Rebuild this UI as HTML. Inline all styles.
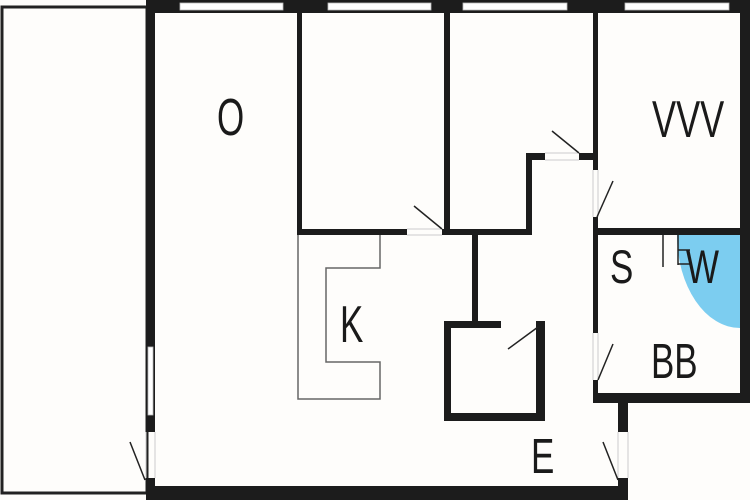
<!DOCTYPE html>
<html><head><meta charset="utf-8"><style>
html,body{margin:0;padding:0;background:#fff;width:750px;height:500px;overflow:hidden}
svg{display:block}
text{font-family:"Liberation Sans",sans-serif;fill:#1a1a1a}
</style></head><body>
<svg width="750" height="500" viewBox="0 0 750 500" xmlns="http://www.w3.org/2000/svg">
<rect width="750" height="500" fill="#fefdfb"/>
<!-- left outer rect -->
<rect x="2" y="7" width="145" height="486" fill="none" stroke="#222" stroke-width="3"/>
<!-- blue quarter -->
<path d="M740 235 L677 235 A63 93 0 0 0 740 328 Z" fill="#7ccdf0"/>
<g fill="#1c1c1c">
<!-- top wall -->
<rect x="146" y="0" width="604" height="13"/>
<!-- left wall -->
<rect x="146" y="0" width="9" height="432"/>
<rect x="146" y="478" width="9" height="22"/>
<!-- right wall -->
<rect x="740" y="0" width="10" height="403"/>
<!-- bottom wall -->
<rect x="146" y="486" width="482" height="14"/>
<!-- O / room2 -->
<rect x="297" y="0" width="5" height="235"/>
<rect x="297" y="229" width="110" height="6"/>
<rect x="442" y="229" width="90" height="6"/>
<rect x="444" y="0" width="6" height="235"/>
<rect x="526" y="153" width="6" height="82"/>
<rect x="526" y="153" width="19" height="7"/>
<rect x="579" y="153" width="19" height="7"/>
<rect x="593" y="0" width="5" height="170"/>
<rect x="593" y="217" width="5" height="116"/>
<rect x="593" y="228" width="147" height="7"/>
<rect x="593" y="380" width="5" height="23"/>
<rect x="593" y="393" width="157" height="10"/>
<rect x="618" y="393" width="10" height="39"/>
<rect x="618" y="478" width="10" height="22"/>
<!-- hall -->
<rect x="472" y="235" width="6" height="90"/>
<rect x="444" y="321" width="57" height="7"/>
<rect x="444" y="321" width="7" height="100"/>
<rect x="444" y="413" width="101" height="8"/>
<rect x="536" y="321" width="9" height="100"/>
</g>
<!-- windows -->
<g fill="#fff" stroke="#bbb" stroke-width="0.8">
<rect x="180" y="3" width="103" height="7"/>
<rect x="328" y="3" width="103" height="7"/>
<rect x="463" y="3" width="104" height="7"/>
<rect x="625" y="3" width="104" height="7"/>
<rect x="148" y="347" width="5" height="68"/>
</g>
<!-- door gaps thin lines -->
<g stroke="#ccc" stroke-width="1" fill="none">
<line x1="407" y1="229" x2="442" y2="229"/><line x1="407" y1="235" x2="442" y2="235"/>
<line x1="545" y1="153" x2="579" y2="153"/><line x1="545" y1="160" x2="579" y2="160"/>
<line x1="593" y1="170" x2="593" y2="217"/><line x1="598" y1="170" x2="598" y2="217"/>
<line x1="593" y1="333" x2="593" y2="380"/><line x1="598" y1="333" x2="598" y2="380"/>
<line x1="146" y1="432" x2="146" y2="478"/><line x1="155" y1="432" x2="155" y2="478"/>
<line x1="618" y1="432" x2="618" y2="478"/><line x1="628" y1="432" x2="628" y2="478"/>
</g>
<!-- door swings -->
<g stroke="#222" stroke-width="1.5">
<line x1="414" y1="206" x2="442" y2="229"/>
<line x1="552" y1="131" x2="579" y2="153"/>
<line x1="613" y1="181" x2="597" y2="217"/>
<line x1="130" y1="442" x2="145" y2="480"/>
<line x1="508" y1="349" x2="538" y2="327"/>
<line x1="613" y1="344" x2="598" y2="380"/>
<line x1="603" y1="442" x2="618" y2="480"/>
<!-- small marks near W -->
<line x1="663" y1="235" x2="663" y2="267"/>
<line x1="678" y1="235" x2="678" y2="265"/>
<line x1="678" y1="264" x2="692" y2="264"/>
<line x1="678" y1="250" x2="690" y2="250"/>
</g>
<!-- kitchen counter -->
<path d="M298 235 V399 H380 V362 H326 V268 H380 V235" fill="none" stroke="#666" stroke-width="1.5"/>
<!-- labels -->
<g font-size="38">
<text transform="translate(217 135) scale(0.92 1.36)">O</text>
<text transform="translate(652 137) scale(0.95 1.36)">VVV</text>
<text transform="translate(340 342) scale(0.92 1.36)">K</text>
<text transform="translate(610 283) scale(0.92 1.25)">S</text>
<text transform="translate(686 283) scale(0.92 1.25)">W</text>
<text transform="translate(651 378) scale(0.92 1.3)">BB</text>
<text transform="translate(531 473) scale(0.92 1.3)">E</text>
</g>
</svg>
</body></html>
